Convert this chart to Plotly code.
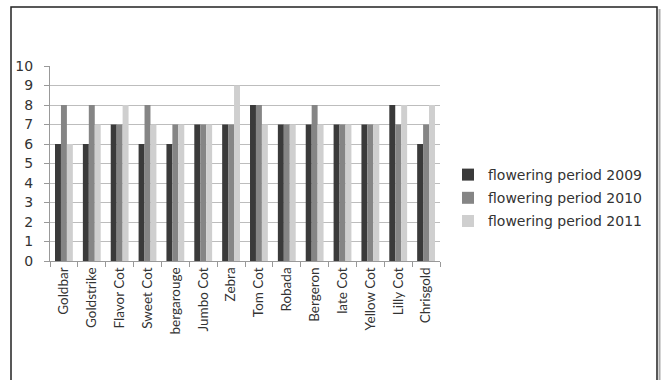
import plotly.graph_objects as go

categories = ["Goldbar", "Goldstrike", "Flavor Cot", "Sweet Cot", "bergarouge", "Jumbo Cot",
              "Zebra", "Tom Cot", "Robada", "Bergeron", "late Cot", "Yellow Cot", "Lilly Cot", "Chrisgold"]
period_2009 = [6, 6, 7, 6, 6, 7, 7, 8, 7, 7, 7, 7, 8, 6]
period_2010 = [8, 8, 7, 8, 7, 7, 7, 8, 7, 8, 7, 7, 7, 7]
period_2011 = [6, 7, 8, 7, 7, 7, 9, 7, 7, 7, 7, 7, 8, 8]
series_names = ["flowering period 2009", "flowering period 2010", "flowering period 2011"]
colors = ["#3a3a3a", "#858585", "#cfcfcf"]

fig = go.Figure()
for i, (name, vals) in enumerate(zip(series_names, [period_2009, period_2010, period_2011])):
    fig.add_trace(go.Bar(x=categories, y=vals, name=name, marker_color=colors[i],
                         marker_line_width=0, legendgroup=f"g{i}"))

L, R, T, B = 50, 225, 66, 119
W = 665 - L - R
H = 380 - T - B

def px_x(p):
    return (p - L) / W

def px_y(p):
    return (380 - B - p) / H

fig.update_layout(
    width=665, height=380,
    margin=dict(l=L, r=R, t=T, b=B),
    paper_bgcolor="white", plot_bgcolor="white",
    barmode="group", bargap=0.36, bargroupgap=0,
    font=dict(family="DejaVu Sans", color="#404040"),
    showlegend=True,
    legend=dict(x=px_x(448), y=px_y(159), xanchor="left", yanchor="top",
                font=dict(size=14, family="DejaVu Sans", color="#333333"),
                tracegroupgap=2, itemwidth=30, bgcolor="rgba(0,0,0,0)"),
    xaxis=dict(type="category", tickangle=-90, tickson="boundaries",
               ticks="outside", ticklen=5, tickcolor="#999999",
               showline=True, linecolor="#999999", linewidth=1,
               tickfont=dict(size=13.5, family="Lato", color="#333333"),
               showgrid=False),
    yaxis=dict(range=[0, 10], dtick=1, ticks="outside", ticklen=5, tickcolor="#999999",
               ticklabelstandoff=8,
               showline=True, linecolor="#999999", linewidth=1,
               showgrid=True, gridcolor="#bdbdbd", gridwidth=1,
               tickfont=dict(size=14, family="DejaVu Sans", color="#333333")),
    shapes=[
        dict(type="rect", xref="paper", yref="paper",
             x0=px_x(11), x1=px_x(657), y0=px_y(390), y1=px_y(7),
             line=dict(color="#222222", width=1.5), fillcolor="rgba(0,0,0,0)", layer="below"),
        dict(type="line", xref="paper", yref="paper",
             x0=px_x(659.5), x1=px_x(659.5), y0=px_y(390), y1=px_y(9),
             line=dict(color="#aaaaaa", width=2)),
    ],
)

fig.write_html("out.html")
